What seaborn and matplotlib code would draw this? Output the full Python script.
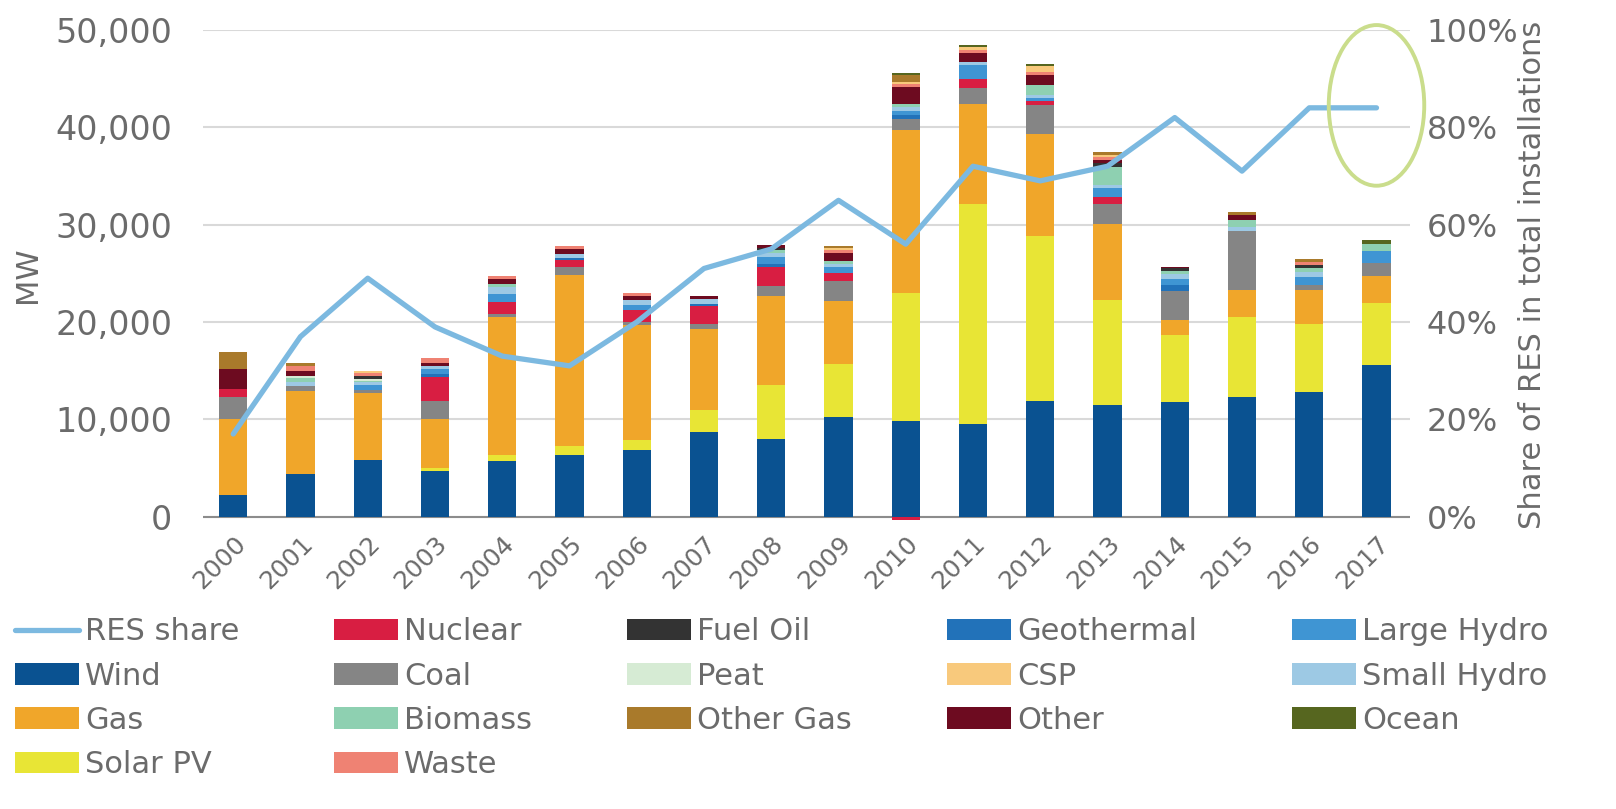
import numpy as np
import pandas as pd
import seaborn as sns
import matplotlib.pyplot as plt
from matplotlib.patches import Ellipse, Patch
from matplotlib.lines import Line2D
from matplotlib.ticker import FuncFormatter

years = [str(y) for y in range(2000, 2018)]

# MW installed per technology and year
wind        = [2200, 4400, 5800, 4700, 5700, 6300, 6900, 8700, 8000, 10200, 9800, 9500, 11900, 11500, 11800, 12300, 12800, 15600]
solar_pv    = [0, 0, 0, 300, 600, 1000, 1000, 2300, 5500, 5500, 13200, 22600, 16900, 10800, 6900, 8200, 7000, 6400]
gas         = [7800, 8500, 6900, 5000, 14200, 17500, 11800, 8300, 9200, 6500, 16700, 10300, 10500, 7800, 1500, 2800, 3500, 2700]
coal        = [2300, 500, 300, 1900, 300, 900, 300, 500, 1000, 2000, 1200, 1600, 3000, 2000, 3000, 6000, 500, 1400]
nuclear     = [800, 0, 0, 2500, 1300, 700, 1200, 1800, 2000, 800, -300, 1000, 400, 700, 0, 0, 0, 0]
geothermal  = [0, 0, 0, 300, 0, 200, 0, 300, 300, 0, 400, 0, 0, 0, 600, 0, 0, 0]
large_hydro = [0, 0, 500, 500, 800, 0, 600, 0, 700, 700, 400, 1400, 300, 1000, 600, 0, 800, 1200]
small_hydro = [0, 400, 300, 300, 700, 400, 500, 500, 400, 300, 400, 300, 300, 300, 500, 500, 500, 0]
biomass     = [0, 500, 100, 0, 300, 0, 0, 0, 300, 300, 300, 0, 1000, 1800, 300, 700, 500, 700]
peat        = [0, 200, 300, 0, 0, 0, 0, 0, 0, 0, 0, 0, 0, 0, 0, 0, 0, 0]
fuel_oil    = [0, 0, 300, 0, 0, 0, 0, 0, 200, 0, 0, 0, 0, 400, 300, 0, 300, 0]
other       = [2100, 500, 0, 300, 500, 500, 400, 300, 300, 800, 1700, 900, 1100, 300, 200, 500, 0, 0]
waste       = [0, 500, 300, 500, 300, 300, 300, 0, 0, 300, 300, 300, 300, 300, 0, 0, 300, 0]
csp         = [0, 0, 200, 0, 0, 0, 0, 0, 0, 200, 300, 300, 600, 300, 0, 0, 0, 0]
other_gas   = [1700, 300, 0, 0, 0, 0, 0, 0, 0, 200, 700, 0, 0, 300, 0, 300, 300, 0]
ocean       = [0, 0, 0, 0, 0, 0, 0, 0, 0, 0, 200, 300, 200, 0, 0, 0, 0, 400]

# share of renewables in total installations (%)
res_share = [17, 37, 49, 39, 33, 31, 40, 51, 55, 65, 56, 72, 69, 72, 82, 71, 84, 84]

series = [
    ("Wind", wind, "#0a5291"),
    ("Solar PV", solar_pv, "#e8e535"),
    ("Gas", gas, "#f0a62a"),
    ("Coal", coal, "#858585"),
    ("Nuclear", nuclear, "#d81e42"),
    ("Geothermal", geothermal, "#2272b9"),
    ("Large Hydro", large_hydro, "#3f95d3"),
    ("Small Hydro", small_hydro, "#9dc9e4"),
    ("Biomass", biomass, "#8ed0b1"),
    ("Peat", peat, "#d6ebd4"),
    ("Fuel Oil", fuel_oil, "#333333"),
    ("Other", other, "#6d0b20"),
    ("Waste", waste, "#ef8273"),
    ("CSP", csp, "#f8c97c"),
    ("Other Gas", other_gas, "#a97a2b"),
    ("Ocean", ocean, "#56661f"),
]
colors = {name: c for name, _, c in series}

sns.set_theme(style="white")
plt.rcParams['font.family'] = ['DejaVu Sans']
txt = "#6b6b6b"

fig = plt.figure(figsize=(16.16, 8.09), dpi=100)
ax = fig.add_axes([0.1256, 0.357, 0.747, 0.606])

x = np.arange(len(years))
pos_bottom = np.zeros(len(years))
neg_bottom = np.zeros(len(years))
for name, vals, col in series:
    v = np.array(vals, dtype=float)
    bottom = np.where(v >= 0, pos_bottom, neg_bottom)
    ax.bar(x, v, width=0.42, bottom=bottom, color=col, linewidth=0, zorder=3)
    pos_bottom += np.clip(v, 0, None)
    neg_bottom += np.clip(v, None, 0)

ax.set_xlim(-0.45, 17.5)
ax.set_ylim(-350, 50000)
ax.set_yticks(range(0, 50001, 10000))
ax.yaxis.set_major_formatter(FuncFormatter(lambda v, p: f"{int(v):,}"))
ax.grid(axis="y", color="#d9d9d9", linewidth=1.5, zorder=0)
ax.axhline(0, color="#8c8c8c", linewidth=1.5, zorder=2)
for s in ax.spines.values():
    s.set_visible(False)
ax.set_xticks(x)
ax.set_xticklabels(years, rotation=45, ha="right", rotation_mode="anchor")
ax.tick_params(axis="x", labelsize=18, colors=txt, length=0, pad=8)
ax.tick_params(axis="y", labelsize=24, colors=txt, length=0, pad=22)
ax.set_ylabel("MW", fontsize=22, color=txt, labelpad=10)

ax2 = ax.twinx()
line_df = pd.DataFrame({"x": x, "share": res_share})
sns.lineplot(data=line_df, x="x", y="share", ax=ax2, color="#7cb9e0", linewidth=3.8, zorder=4)
ax2.set_ylim(-0.7, 100)
ax2.set_yticks(range(0, 101, 20))
ax2.yaxis.set_major_formatter(FuncFormatter(lambda v, p: f"{int(v)}%"))
ax2.tick_params(axis="y", labelsize=23, colors=txt, length=0, pad=12)
ax2.set_ylabel("Share of RES in total installations", fontsize=22, color=txt, labelpad=0)
ax2.set_xlabel("")
for s in ax2.spines.values():
    s.set_visible(False)
ax2.grid(False)

# highlight around the last point
ax2.add_patch(Ellipse((x[-1], res_share[-1] + 0.5), 1.42, 33, fill=False,
                      edgecolor="#cadd8c", linewidth=2.8, zorder=5, clip_on=False))

handles = [Line2D([0], [0], color="#7cb9e0", linewidth=3.8)]
labels = ["RES share"]
legend_order = ["Wind", "Gas", "Solar PV", "Nuclear", "Coal", "Biomass", "Waste",
                "Fuel Oil", "Peat", "Other Gas", "Geothermal", "CSP", "Other",
                "Large Hydro", "Small Hydro", "Ocean"]
for name in legend_order:
    handles.append(Patch(facecolor=colors[name], edgecolor="none"))
    labels.append(name)

leg = fig.legend(handles, labels, ncol=5, loc="upper left", bbox_to_anchor=(0.009, 0.237),
                 frameon=False, fontsize=22, handlelength=2.1, handleheight=0.7,
                 handletextpad=0.2, labelspacing=0.5, columnspacing=3.1, borderpad=0,
                 borderaxespad=0)
for t in leg.get_texts():
    t.set_color(txt)

fig.savefig("out.png", dpi=100)
